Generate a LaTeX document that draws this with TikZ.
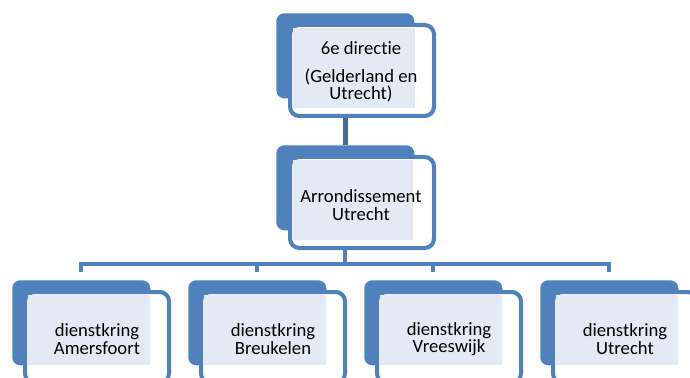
\documentclass[tikz,border=0pt]{standalone}
\usepackage{fontspec}
\setmainfont{Carlito}[Ligatures={NoCommon}]
\usetikzlibrary{calc}
\definecolor{orgblue}{HTML}{4F81BD}
\definecolor{orgdark}{HTML}{3E6A9E}
\definecolor{orgfill}{HTML}{E4EAF3}
\tikzset{
  backbox/.style={draw=none, fill=orgblue, rounded corners=6pt, minimum width=103.5pt, minimum height=63.75pt, inner sep=0pt, anchor=north west},
  frontbox/.style={draw=orgblue, line width=3pt, fill=white, rounded corners=7pt, minimum width=108pt, minimum height=68.25pt, inner sep=0pt, anchor=north west},
  label/.style={font=\fontsize{14}{13}\selectfont, align=center, text=black, inner sep=0pt},
  bus/.style={draw=orgblue, line width=3pt},
  stem/.style={draw=orgdark, line width=4pt},
}
\begin{document}
\begin{tikzpicture}[x=0.75pt,y=-0.75pt]
\useasboundingbox (0,0) rectangle (690,378);
\clip (0,0) rectangle (690,378);
\fill[white] (0,0) rectangle (690,378);

% 6e directie
\node[backbox] (dir) at (276,13) {};
\node[frontbox] (dir-f) at (288,23) {};
\fill[orgfill] (293,28) rectangle (415,108);
\node[label] (dir-t) at (361,72) {6e directie\\[8pt](Gelderland en\\Utrecht)};

% Arrondissement Utrecht
\node[backbox] (arr) at (276,145) {};
\node[frontbox] (arr-f) at (288,155) {};
\fill[orgfill] (293,160) rectangle (413,240);
\node[label] (arr-t) at (361,205) {Arrondissement\\Utrecht};

% dienstkringen
\node[backbox] (k1) at (12,280) {};
\node[frontbox] (k1-f) at (23,290) {};
\fill[orgfill] (28,295) rectangle (150,365);
\node[label] (k1-t) at (97,339) {dienstkring\\Amersfoort};

\node[backbox] (k2) at (188,280) {};
\node[frontbox] (k2-f) at (199,290) {};
\fill[orgfill] (204,295) rectangle (326,365);
\node[label] (k2-t) at (273,339) {dienstkring\\Breukelen};

\node[backbox] (k3) at (364,280) {};
\node[frontbox] (k3-f) at (375,290) {};
\fill[orgfill] (380,295) rectangle (502,365);
\node[label] (k3-t) at (449,339) {dienstkring\\Vreeswijk};

\node[backbox] (k4) at (540,280) {};
\node[frontbox] (k4-f) at (551,290) {};
\fill[orgfill] (556,295) rectangle (678,365);
\node[label] (k4-t) at (625,339) {dienstkring\\Utrecht};

% connectors
\coordinate (bus) at (0,264);
\draw[stem] (dir-f.south -| dir.north) -- (arr.north);
\draw[bus] (arr-f.south -| arr.north) -- (bus -| arr.north);
\draw[bus, line cap=rect] (bus -| k1.north) -- (bus -| k4.north);
\foreach \k in {k1,k2,k3,k4}
  \draw[bus, shorten >=6pt] (bus -| \k.north) -- (\k.north);
\end{tikzpicture}
\end{document}
